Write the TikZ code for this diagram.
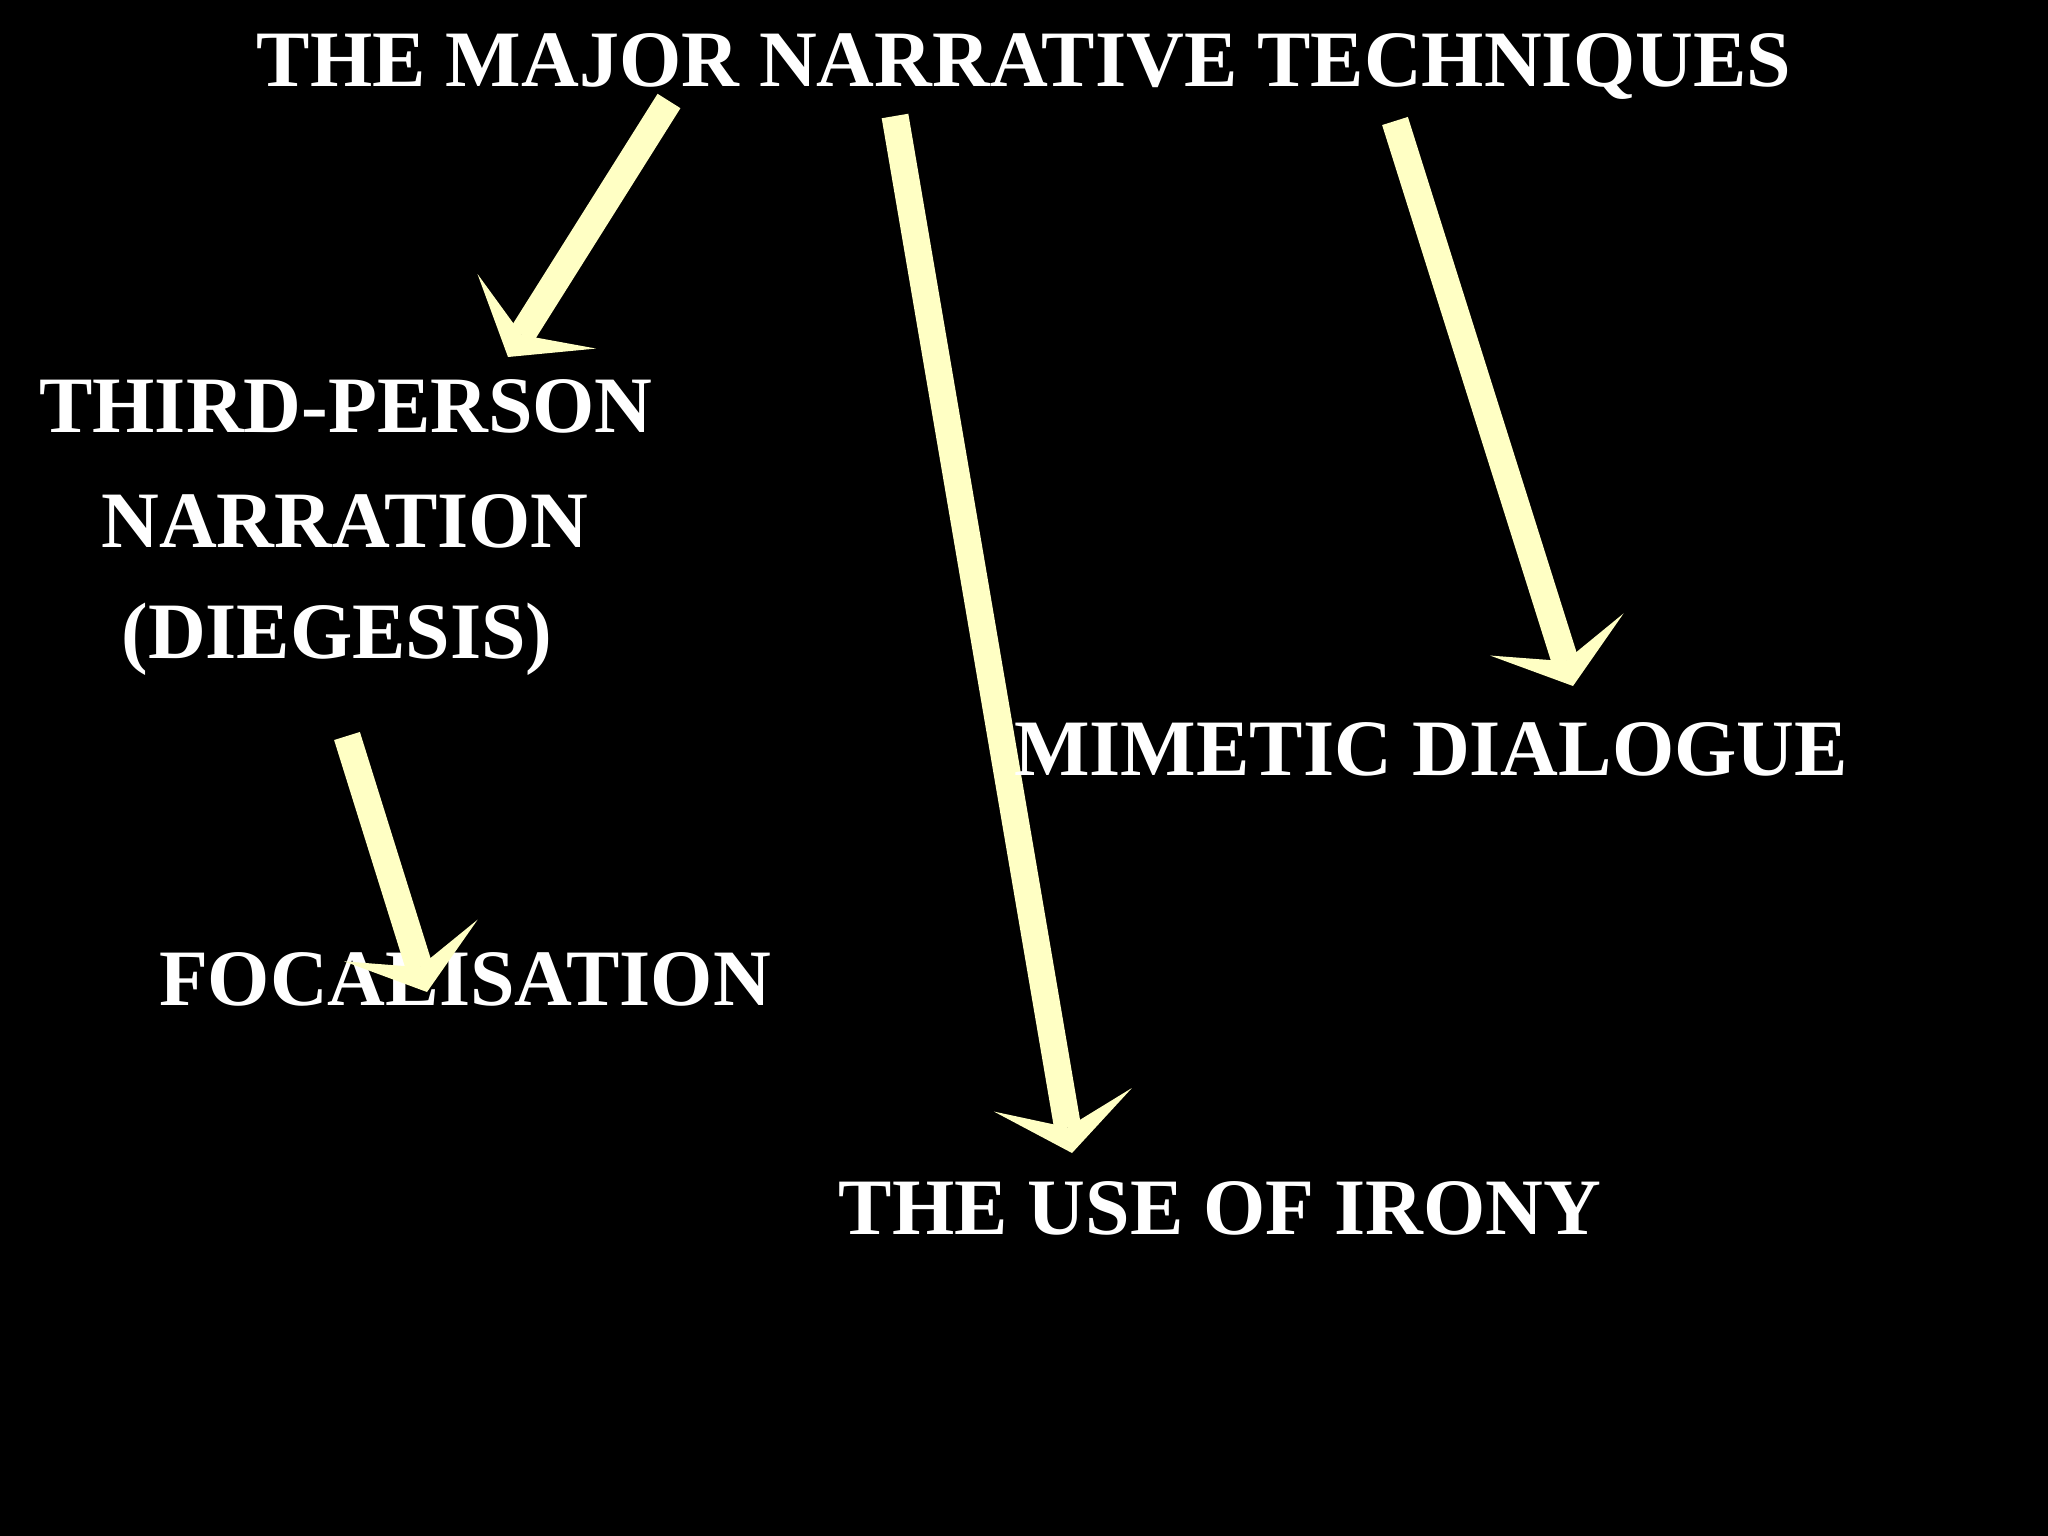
\documentclass[tikz,border=0pt]{standalone}
\usepackage{fontspec}
\setmainfont{Liberation Serif}
\usetikzlibrary{arrows.meta}
\definecolor{paleyellow}{RGB}{255,255,196}
\begin{document}
\begin{tikzpicture}[x=1pt,y=-1pt,
  lbl/.style={text=white, font=\fontsize{80}{96}\selectfont\bfseries, inner sep=0pt, anchor=base},
  bigarrow/.style={draw=paleyellow, line width=27pt,
    -{Stealth[length=54pt,width=140pt,inset=28pt,line width=0pt,fill=paleyellow]}}]
\fill[black] (0,0) rectangle (2048,1536);
\useasboundingbox (0,0) rectangle (2048,1536);
% arrow end points
\coordinate (a1s) at (669,101);  \coordinate (a1e) at (508,357);
\coordinate (a2s) at (895,116);  \coordinate (a2e) at (1072,1153);
\coordinate (a3s) at (1395,121); \coordinate (a3e) at (1573,686);
\coordinate (a4s) at (347,736);  \coordinate (a4e) at (427,992);
% arrows behind text
\draw[bigarrow] (a1s) -- (a1e);
\draw[bigarrow] (a2s) -- (a2e);
\draw[bigarrow] (a3s) -- (a3e);
% texts
\node[lbl] (title) at (1024,87) {THE MAJOR NARRATIVE TECHNIQUES};
\node[lbl] (tp1) at (346,432) {THIRD-PERSON};
\node[lbl] (tp2) at (345,547) {NARRATION};
\node[lbl] (tp3) at (337,658) {(DIEGESIS)};
\node[lbl] (mim) at (1431,775) {MIMETIC DIALOGUE};
\node[lbl] (foc) at (465,1005) {FOCALISATION};
\node[lbl] (iro) at (1220,1234) {THE USE OF IRONY};
% arrow over text
\draw[bigarrow] (a4s) -- (a4e);
\end{tikzpicture}
\end{document}
